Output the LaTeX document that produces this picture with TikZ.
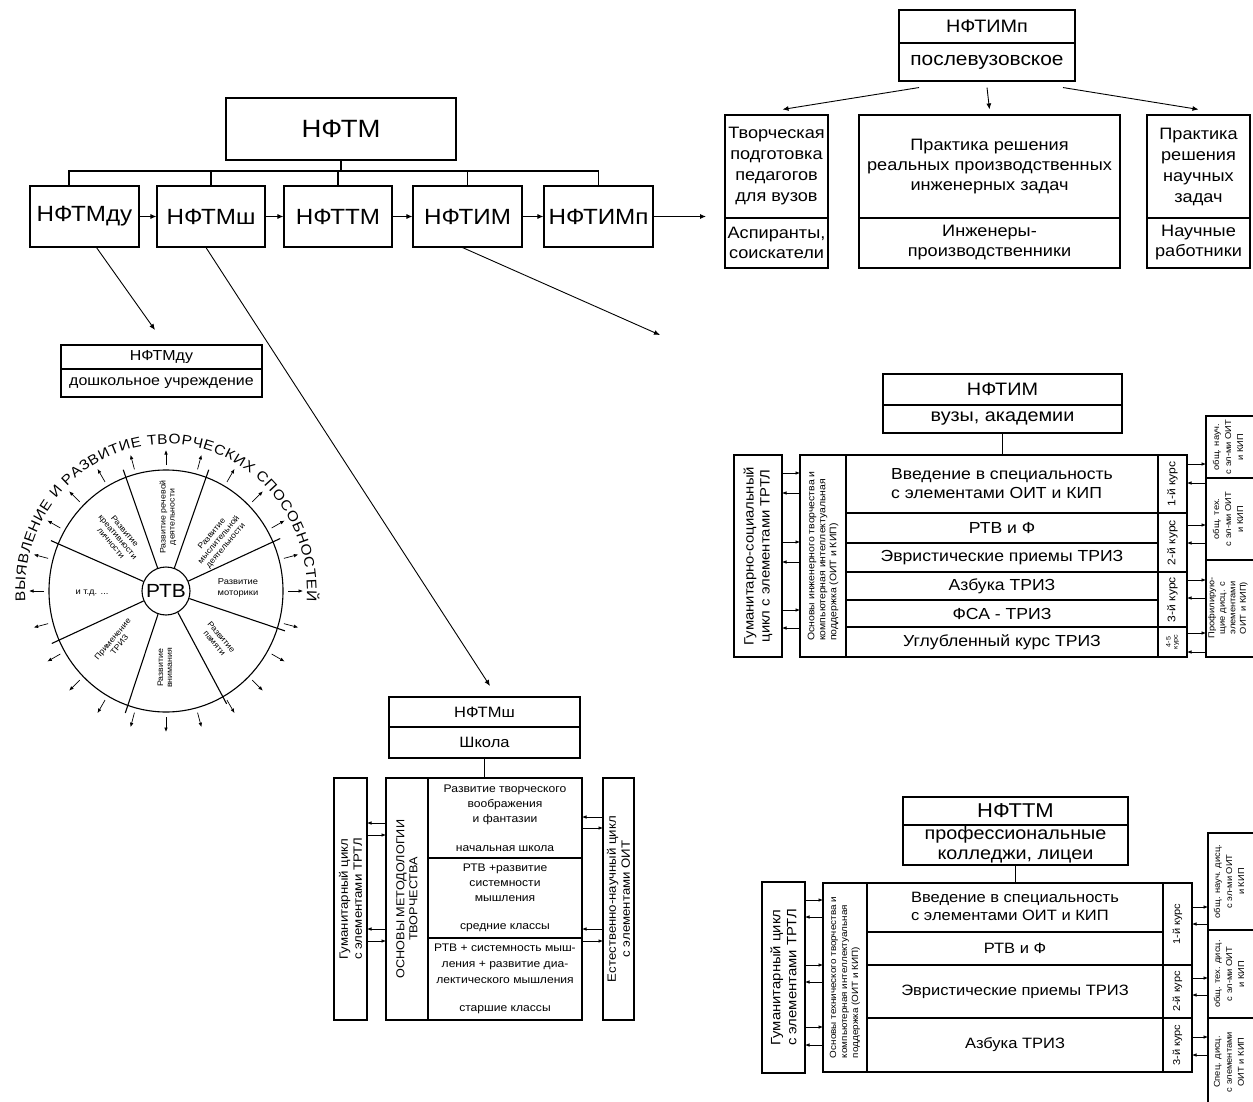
\documentclass[tikz,border=0pt]{standalone}
\usepackage{fontspec}
\setmainfont{Liberation Sans}[FakeStretch=1.1]
\usetikzlibrary{arrows.meta,decorations.text}
\newcommand{\fsz}[2]{\fontsize{#1}{#2}\selectfont}
\newcommand{\cellbox}[7][]{\node[bx,minimum width={(#5-#3)*1pt},minimum height={(#6-#4)*1pt},#1] (#2) at ({(#3+#5)/2},{-(#4+#6)/2}) {#7};}
\tikzset{
  bx/.style={draw, line width=1.1pt, inner sep=0pt, align=center},
  ln/.style={line width=1.1pt},
  thk/.style={line width=2.4pt},
  arr/.style={line width=0.9pt, -{Latex[length=6pt,width=5pt]}},
  sarr/.style={line width=0.7pt, -{Latex[length=4.5pt,width=3.6pt]}},
  txt/.style={inner sep=0pt, align=center},
  rtxt/.style={inner sep=0pt, align=center, rotate=90},
  wlab/.style={inner sep=0pt, align=center, font=\fsz{8}{9}},
}
\begin{document}
\begin{tikzpicture}[x=1pt,y=1pt]
\useasboundingbox (0,0) rectangle (1253,-1102);
\fill[white] (0,0) rectangle (1253,-1102);

% ---------- main chain ----------
\cellbox[font=\fsz{25}{28}]{nftm}{226}{98}{456}{160}{НФТМ}
\cellbox[font=\fsz{22}{24}]{du}{30}{186}{139}{247}{НФТМду}
\cellbox[font=\fsz{22}{24}]{sh}{157}{186}{265}{247}{НФТМш}
\cellbox[font=\fsz{22}{24}]{tt}{284}{186}{392}{247}{НФТТМ}
\cellbox[font=\fsz{22}{24}]{im}{413}{186}{522}{247}{НФТИМ}
\cellbox[font=\fsz{22}{24}]{imp}{544}{186}{653}{247}{НФТИМп}
\coordinate (bus) at (0,-171);
\draw[ln] ([xshift=-15.5pt]du.north) |- (imp.north |- bus) -- (imp.north);
\foreach \n in {sh,tt,im} \draw[ln] (\n.north) -- (\n.north |- bus);
\draw[ln] (nftm.south) -- (nftm.south |- bus);
\draw[arr] (du.east) -- (sh.west);
\draw[arr] (sh.east) -- (tt.west);
\draw[arr] (tt.east) -- (im.west);
\draw[arr] (im.east) -- (imp.west);
\coordinate (impTip) at (706,-216.5);
\draw[arr] (imp.east) -- (impTip);
\coordinate (duTip) at (155,-330);
\draw[arr] ([xshift=12pt]du.south) -- (duTip);
\coordinate (shTip) at (490,-686);
\draw[arr] ([xshift=-5pt]sh.south) -- (shTip);
\coordinate (imTip) at (660,-335);
\draw[arr] ([xshift=-5pt]im.south) -- (imTip);

% ---------- post-graduate ----------
\cellbox[font=\fsz{18}{20}]{imph}{899}{10}{1075}{43}{НФТИМп}
\cellbox[font=\fsz{19}{21}]{impl}{899}{43}{1075}{81}{послевузовское}
\cellbox[font=\fsz{16.5}{21}]{p1t}{725}{115}{828}{218}{Творческая\\подготовка\\педагогов\\для вузов}
\cellbox[font=\fsz{16.5}{20}]{p1b}{725}{218}{828}{268}{Аспиранты,\\соискатели}
\cellbox[font=\fsz{16.5}{20}]{p2t}{859}{115}{1120}{218}{Практика решения\\реальных производственных\\инженерных задач}
\cellbox[font=\fsz{16.5}{20}]{p2b}{859}{218}{1120}{268}{Инженеры-\\производственники}
\cellbox[font=\fsz{16.5}{21}]{p3t}{1147}{115}{1250}{218}{Практика\\решения\\научных\\задач}
\cellbox[font=\fsz{16.5}{20}]{p3b}{1147}{218}{1250}{268}{Научные\\работники}
\draw[arr] ([xshift=-68pt,yshift=-6pt]impl.south) -- ([xshift=6pt,yshift=5pt]p1t.north);
\draw[arr] ([yshift=-6pt]impl.south) -- ([yshift=5pt]p2t.north);
\draw[arr] ([xshift=76pt,yshift=-6pt]impl.south) -- ([yshift=5pt]p3t.north);

% ---------- preschool ----------
\cellbox[font=\fsz{14.5}{16}]{dul}{61}{345}{262}{369}{НФТМду}
\cellbox[font=\fsz{14.5}{16}]{dul2}{61}{369}{262}{397}{дошкольное учреждение}

\begin{scope}[shift={(166,-591)}]
\draw[ln] (0,0) ellipse [x radius=117pt, y radius=121pt];
\node[draw, circle, line width=1.1pt, minimum size=48pt, inner sep=0pt, font=\fsz{19}{20}] (rtv) at (0,0) {РТВ};
\foreach \a in {157,110,70,24,342,299,251,204} \draw[ln] (rtv.\a) -- (\a:125pt and 129pt);
\foreach \a in {0,15,...,345} \draw[sarr] (\a:122pt and 126pt) -- (\a:137pt and 141pt);
\path[decorate, decoration={text along path, text={|\fsz{14}{14}|ВЫЯВЛЕНИЕ И РАЗВИТИЕ ТВОРЧЕСКИХ СПОСОБНОСТЕЙ}, text align={fit to path}}] (184:141pt and 147pt) arc[start angle=184, end angle=-4, x radius=141pt, y radius=147pt];
\node[wlab, rotate=-50] at (-48pt,54pt) {Развитие\\креативности\\личности};
\node[wlab, rotate=90] at (2pt,74pt) {Развитие речевой\\деятельности};
\node[wlab, rotate=50] at (53pt,51pt) {Развитие\\мыслительной\\деятельности};
\node[wlab, font=\fsz{8.5}{11}] at (72pt,3pt) {Развитие\\моторики};
\node[wlab, rotate=-50] at (52pt,-49pt) {Развитие\\памяти};
\node[wlab, rotate=90] at (-1pt,-77pt) {Развитие\\внимания};
\node[wlab, rotate=50] at (-50pt,-51pt) {Применение\\ТРИЗ};
\node[wlab, font=\fsz{8.5}{10}] at (-74pt,-2pt) {и т.д. ...};
\end{scope}

% ---------- school ----------
\cellbox[font=\fsz{15}{16}]{shh}{389}{697}{580}{727}{НФТМш}
\cellbox[font=\fsz{15}{16}]{shl}{389}{727}{580}{758}{Школа}
\cellbox{shmain}{386}{778}{582}{1020}{}
\draw[ln] (shl.south) -- (shl.south |- shmain.north);
\cellbox{shL}{334}{778}{367}{1020}{}
\node[rtxt, font=\fsz{12}{14}] at (shL) {Гуманитарный цикл\\с элементами ТРТЛ};
\cellbox{shR}{603}{778}{634}{1020}{}
\node[rtxt, font=\fsz{12}{14}] at (shR) {Естественно-научный цикл\\с элементами ОИТ};
\draw[ln] (428,-778) -- (428,-1020);
\draw[ln] (428,-858) -- (582,-858);
\draw[ln] (428,-938) -- (582,-938);
\node[rtxt, font=\fsz{11.5}{13}] at (407,-899) {ОСНОВЫ МЕТОДОЛОГИИ\\ТВОРЧЕСТВА};
\node[txt, font=\fsz{11}{15}] at (505,-805) {Развитие творческого\\воображения\\и фантазии};
\node[txt, font=\fsz{11}{13}] at (505,-849) {начальная школа};
\node[txt, font=\fsz{11}{15}] at (505,-883) {РТВ +развитие\\системности\\мышления};
\node[txt, font=\fsz{11}{13}] at (505,-928) {средние классы};
\node[txt, font=\fsz{11}{16}] at (505,-964) {РТВ + системность мыш-\\ления + развитие диа-\\лектического мышления};
\node[txt, font=\fsz{11}{13}] at (505,-1010) {старшие классы};
\foreach \y in {835,941} \draw[sarr] (367,-\y) -- (386,-\y);
\foreach \y in {823,929} \draw[sarr] (386,-\y) -- (367,-\y);
\foreach \y in {828,941} \draw[sarr] (582,-\y) -- (603,-\y);
\foreach \y in {817,929} \draw[sarr] (603,-\y) -- (582,-\y);

% ---------- institutes ----------
\cellbox[font=\fsz{18}{20}]{imh}{883}{374}{1122}{405}{НФТИМ}
\cellbox[font=\fsz{18}{20}]{iml}{883}{405}{1122}{433}{вузы, академии}
\cellbox{immain}{800}{455}{1187}{657}{}
\draw[ln] (iml.south) -- (iml.south |- immain.north);
\cellbox{imL}{734}{455}{782}{657}{}
\node[rtxt, font=\fsz{13.5}{16}] at (imL) {Гуманитарно-социальный\\цикл с элементами ТРТЛ};
\draw[ln] (846,-455) -- (846,-657);
\draw[ln] (1158,-455) -- (1158,-657);
\draw[ln] (846,-513) -- (1187,-513);
\draw[thk] (846,-543) -- (1158,-543);
\draw[ln] (846,-572) -- (1187,-572);
\draw[thk] (846,-600) -- (1158,-600);
\draw[ln] (846,-627) -- (1187,-627);
\node[rtxt, align=left, font=\fsz{9.5}{11}] at (823,-556) {Основы инженерного творчества и\\компьютерная интеллектуальная\\поддержка (ОИТ и КИП)};
\node[txt, align=left, font=\fsz{16}{19}] at (1002,-484) {Введение в специальность\\с элементами ОИТ и КИП};
\node[txt, font=\fsz{16}{18}] at (1002,-528) {РТВ и Ф};
\node[txt, font=\fsz{16}{18}] at (1002,-558) {Эвристические приемы ТРИЗ};
\node[txt, font=\fsz{16}{18}] at (1002,-586) {Азбука ТРИЗ};
\node[txt, font=\fsz{16}{18}] at (1002,-614) {ФСА - ТРИЗ};
\node[txt, font=\fsz{16}{18}] at (1002,-642) {Углубленный курс ТРИЗ};
\node[rtxt, font=\fsz{11}{12}] at (1172.5,-484) {1-й курс};
\node[rtxt, font=\fsz{11}{12}] at (1172.5,-542.5) {2-й курс};
\node[rtxt, font=\fsz{11}{12}] at (1172.5,-599.5) {3-й курс};
\node[rtxt, font=\fsz{6.5}{7}] at (1172.5,-642) {4-5\\курс};
\cellbox{imR1}{1206}{416}{1262}{478}{}
\cellbox{imR2}{1206}{478}{1262}{560}{}
\cellbox{imR3}{1206}{560}{1262}{657}{}
\node[rtxt, font=\fsz{8.5}{12}] at (1228,-447) {общ. науч.\\с эл-ми ОИТ\\и КИП};
\node[rtxt, font=\fsz{8.5}{12}] at (1228,-519) {общ. тех.\\с эл-ми ОИТ\\и КИП};
\node[rtxt, font=\fsz{8.5}{10.5}] at (1228,-608) {Профилирую-\\щие дисц. с\\элементами\\ОИТ и КИП)};
\foreach \y in {473,542,610} \draw[sarr] (782,-\y) -- (800,-\y);
\foreach \y in {493,562,628} \draw[sarr] (800,-\y) -- (782,-\y);
\foreach \y in {464,525,580,633} \draw[sarr] (1187,-\y) -- (1206,-\y);
\foreach \y in {483,543,598,652} \draw[sarr] (1206,-\y) -- (1187,-\y);

% ---------- colleges ----------
\cellbox[font=\fsz{20}{22}]{tth}{903}{797}{1128}{825}{НФТТМ}
\cellbox[font=\fsz{18}{20}]{ttl}{903}{825}{1128}{865}{профессиональные\\колледжи, лицеи}
\cellbox{ttmain}{823}{883}{1192}{1072}{}
\draw[ln] (ttl.south) -- (ttl.south |- ttmain.north);
\cellbox{ttL}{762}{882}{805}{1073}{}
\node[rtxt, font=\fsz{13.5}{16}] at (ttL) {Гуманитарный цикл\\с элементами ТРТЛ};
\draw[ln] (867,-883) -- (867,-1072);
\draw[ln] (1163,-883) -- (1163,-1072);
\draw[ln] (867,-932) -- (1163,-932);
\draw[ln] (867,-965) -- (1192,-965);
\draw[ln] (867,-1018) -- (1192,-1018);
\node[rtxt, align=left, font=\fsz{9}{11}] at (845,-977.5) {Основы технического творчества и\\компьютерная интеллектуальная\\поддержка (ОИТ и КИП)};
\node[txt, align=left, font=\fsz{15}{18}] at (1015,-906) {Введение в специальность\\с элементами ОИТ и КИП};
\node[txt, font=\fsz{15}{17}] at (1015,-948) {РТВ и Ф};
\node[txt, font=\fsz{15}{17}] at (1015,-992) {Эвристические приемы ТРИЗ};
\node[txt, font=\fsz{15}{17}] at (1015,-1045) {Азбука ТРИЗ};
\node[rtxt, font=\fsz{10}{11}] at (1177.5,-924) {1-й курс};
\node[rtxt, font=\fsz{10}{11}] at (1177.5,-991.5) {2-й курс};
\node[rtxt, font=\fsz{10}{11}] at (1177.5,-1045) {3-й курс};
\cellbox{ttR1}{1208}{833}{1262}{930}{}
\cellbox{ttR2}{1208}{930}{1262}{1018}{}
\cellbox{ttR3}{1208}{1018}{1262}{1110}{}
\node[rtxt, font=\fsz{8.5}{12}] at (1229,-881.5) {общ. науч. дисц.\\с эл-ми ОИТ\\и КИП};
\node[rtxt, font=\fsz{8.5}{12}] at (1229,-974) {общ. тех. дисц.\\с эл-ми ОИТ\\и КИП};
\node[rtxt, font=\fsz{8.5}{12}] at (1229,-1062) {Спец. дисц.\\с элементами\\ОИТ и КИП};
\foreach \y in {900,965,1027} \draw[sarr] (805,-\y) -- (823,-\y);
\foreach \y in {917,982,1045} \draw[sarr] (823,-\y) -- (805,-\y);
\foreach \y in {907,978,1037} \draw[sarr] (1192,-\y) -- (1208,-\y);
\foreach \y in {924,995,1055} \draw[sarr] (1208,-\y) -- (1192,-\y);
\end{tikzpicture}
\end{document}
